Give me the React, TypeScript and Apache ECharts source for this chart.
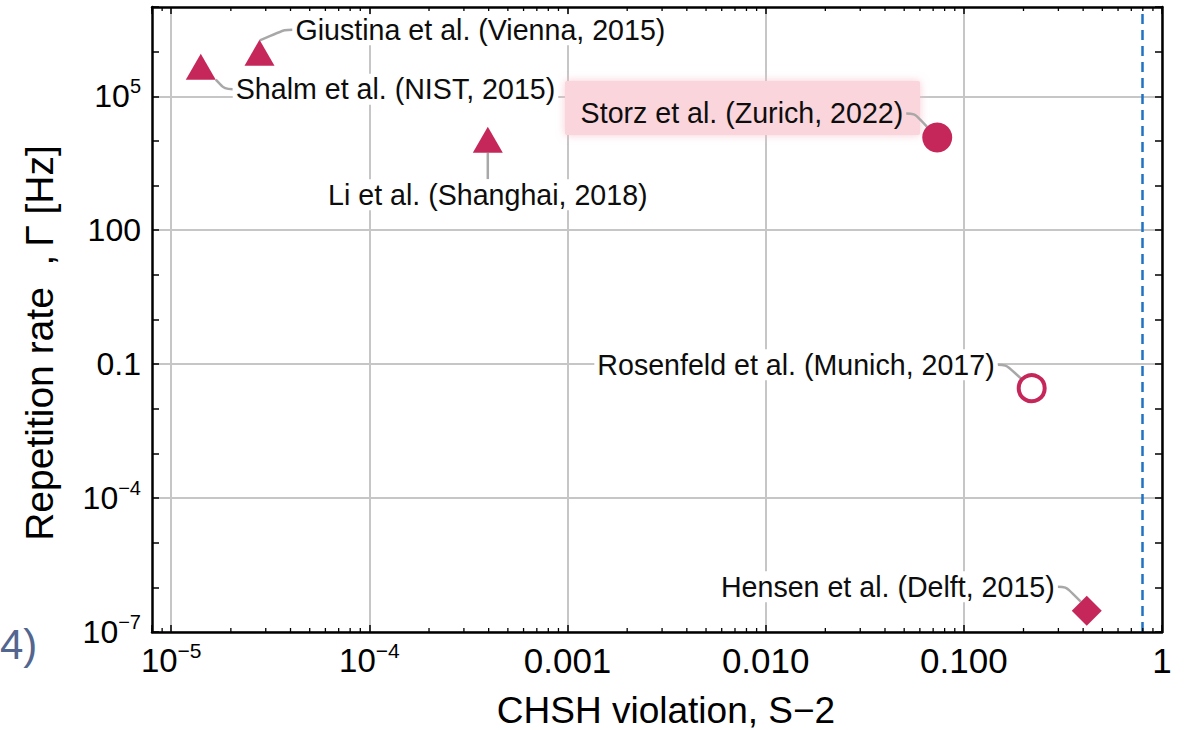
import React, { useEffect, useRef } from 'react';
import * as echarts from 'echarts';

// ---------------- data ----------------
const studies = [
  'Giustina et al. (Vienna, 2015)',
  'Shalm et al. (NIST, 2015)',
  'Li et al. (Shanghai, 2018)',
  'Storz et al. (Zurich, 2022)',
  'Rosenfeld et al. (Munich, 2017)',
  'Hensen et al. (Delft, 2015)',
];
const chshViolation = [2.79e-5, 1.41e-5, 3.96e-4, 0.0734, 0.22, 0.417];
const repetitionRate = [9.5e5, 4.6e5, 1.06e4, 1.2e4, 0.029, 3.0e-7];
const markerKind = ['triangle', 'triangle', 'triangle', 'disc', 'ring', 'diamond'];
const highlightedStudy = 'Storz et al. (Zurich, 2022)';

const xMin = 8e-6;
const xMax = 1;
const yMin = 1e-7;
const yMax = 1e7;
const xTickValues = [1e-5, 1e-4, 1e-3, 1e-2, 1e-1, 1];
const xTickLabels = ['10^−5', '10^−4', '0.001', '0.010', '0.100', '1'];
const yTickValues = [1e-7, 1e-4, 1e-1, 1e2, 1e5];
const yTickLabels = ['10^−7', '10^−4', '0.1', '100', '10^5'];
const xMinorMantissas = [2, 3, 4, 5, 6, 7, 8, 9];
const xMinorDecades = [1e-6, 1e-5, 1e-4, 1e-3, 1e-2, 1e-1];
const tsirelsonBound = 0.8;

const xTitle = 'CHSH violation, S−2';
const yTitle = 'Repetition rate  ,\u2009Γ [Hz]';
const cornerText = '4)';

// ---------------- styles ----------------
const FONT = '"Liberation Sans", Arial, Helvetica, sans-serif';
const CRIMSON = '#C6275B';
const GRID_GRAY = '#c6c6c6';
const PINK = '#fad5dc';

const markerStyles: Record<string, any> = {
  triangle: { symbol: 'triangle', symbolSize: [30, 26], itemStyle: { color: CRIMSON, opacity: 1 } },
  disc: { symbol: 'circle', symbolSize: 30, itemStyle: { color: CRIMSON, opacity: 1 } },
  ring: {
    symbol: 'circle',
    symbolSize: 26,
    itemStyle: { color: '#fff', borderColor: CRIMSON, borderWidth: 4, opacity: 1 },
  },
  diamond: { symbol: 'diamond', symbolSize: [30, 30], itemStyle: { color: CRIMSON, opacity: 1 } },
};

// label anchor offsets relative to marker centre (same order as studies)
const labelOffsets = [
  { dx: 33, dy: -23, align: 'left' },
  { dx: 32, dy: 22.5, align: 'left' },
  { dx: 0, dy: 55, align: 'center' },
  { dx: -31, dy: -24, align: 'right' },
  { dx: -34, dy: -23.5, align: 'right' },
  { dx: -29, dy: -24, align: 'right' },
];

const lg = Math.log10;

function richLabel(text: string) {
  const m = text.match(/^(.*)\^(.*)$/);
  return m ? `{b|${m[1]}}{s|${m[2]}}` : `{n|${text}}`;
}

function tickFormatter(values: number[], labels: string[]) {
  return (v: number) => {
    const i = values.findIndex((t) => Math.abs(lg(t) - v) < 1e-6);
    return i < 0 ? '' : richLabel(labels[i]);
  };
}

function buildOption(): any {
  const axisLine = { show: true, onZero: false, lineStyle: { color: '#000', width: 2.5 } };
  const axisTick = { show: true, inside: true, length: 7, lineStyle: { color: '#000', width: 1.5 } };

  const xRich = {
    b: { fontSize: 33, lineHeight: 40, fontFamily: FONT, color: '#000', verticalAlign: 'middle' },
    s: { fontSize: 21, lineHeight: 22, fontFamily: FONT, color: '#000', verticalAlign: 'top' },
    n: { fontSize: 35, lineHeight: 40, fontFamily: FONT, color: '#000', verticalAlign: 'middle' },
  };
  const yRich = {
    b: { fontSize: 32, lineHeight: 40, fontFamily: FONT, color: '#000', verticalAlign: 'middle' },
    s: { fontSize: 20, lineHeight: 22, fontFamily: FONT, color: '#000', verticalAlign: 'top' },
    n: { fontSize: 32, lineHeight: 40, fontFamily: FONT, color: '#000', verticalAlign: 'middle' },
  };

  const minorTicks: number[][] = [];
  xMinorDecades.forEach((d) =>
    xMinorMantissas.forEach((k) => {
      const v = k * d;
      if (v >= xMin && v <= xMax) minorTicks.push([lg(v), lg(yMin)]);
    })
  );

  const xCommon = {
    type: 'value',
    min: lg(xMin),
    max: lg(xMax),
    minInterval: 1,
    maxInterval: 1,
    z: 10,
    axisLine,
    axisTick,
    splitLine: { show: false },
  };
  const yCommon = {
    type: 'value',
    min: lg(yMin),
    max: lg(yMax),
    interval: 1,
    z: 10,
    axisLine,
    axisTick,
    splitLine: { show: false },
  };

  return {
    animation: false,
    backgroundColor: '#fff',
    textStyle: { fontFamily: FONT },
    grid: { left: 152, right: 29, top: 7, bottom: 98, containLabel: false, outerBoundsMode: 'none' },
    xAxis: [
      {
        ...xCommon,
        position: 'bottom',
        axisLabel: {
          show: true,
          margin: 8,
          formatter: tickFormatter(xTickValues, xTickLabels),
          rich: xRich,
          showMinLabel: true,
          showMaxLabel: true,
        },
      },
      { ...xCommon, position: 'top', axisLabel: { show: false } },
    ],
    yAxis: [
      {
        ...yCommon,
        position: 'left',
        axisLabel: {
          show: true,
          margin: 11,
          formatter: tickFormatter(yTickValues, yTickLabels),
          rich: yRich,
        },
      },
      { ...yCommon, position: 'right', axisLabel: { show: false } },
    ],
    graphic: [
      {
        type: 'rect',
        z: 2,
        silent: true,
        shape: { x: 565, y: 81, width: 355, height: 54, r: 2 },
        style: { fill: PINK, shadowBlur: 8, shadowColor: 'rgba(246,190,202,0.8)' },
      },
      {
        type: 'text',
        z: 10,
        x: 666,
        y: 710,
        style: {
          text: xTitle,
          fontSize: 37,
          fontFamily: FONT,
          fill: '#000',
          align: 'center',
          verticalAlign: 'middle',
          textAlign: 'center',
          textVerticalAlign: 'middle',
        },
      },
      {
        type: 'text',
        z: 10,
        x: 39,
        y: 343,
        rotation: Math.PI / 2,
        style: {
          text: yTitle,
          fontSize: 39,
          fontFamily: FONT,
          fill: '#000',
          align: 'center',
          verticalAlign: 'middle',
          textAlign: 'center',
          textVerticalAlign: 'middle',
        },
      },
      {
        type: 'text',
        z: 10,
        x: 0,
        y: 644,
        style: {
          text: cornerText,
          fontSize: 42,
          fontFamily: FONT,
          fill: '#52668f',
          align: 'left',
          verticalAlign: 'middle',
          textAlign: 'left',
          textVerticalAlign: 'middle',
        },
      },
    ],
    series: [
      {
        name: 'grid',
        type: 'scatter',
        z: 1,
        silent: true,
        data: [],
        markLine: {
          z: 1,
          silent: true,
          symbol: ['none', 'none'],
          label: { show: false },
          emphasis: { disabled: true },
          lineStyle: { color: GRID_GRAY, width: 2, type: 'solid' },
          data: [
            ...xTickValues.map((v) => ({ xAxis: lg(v) })),
            ...yTickValues.map((v) => ({ yAxis: lg(v) })),
            { xAxis: lg(tsirelsonBound), lineStyle: { color: '#1f72c4', width: 2.5, type: [10, 6] } },
          ],
        },
      },
      {
        name: 'minor ticks',
        type: 'custom',
        z: 11,
        silent: true,
        data: minorTicks,
        encode: { x: 0, y: 1 },
        renderItem: (params: any, api: any) => {
          const b = api.coord([api.value(0), lg(yMin)]);
          const t = api.coord([api.value(0), lg(yMax)]);
          const style = { stroke: '#000', lineWidth: 1.3 };
          return {
            type: 'group',
            children: [
              { type: 'line', shape: { x1: b[0], y1: b[1], x2: b[0], y2: b[1] - 4 }, style },
              { type: 'line', shape: { x1: t[0], y1: t[1], x2: t[0], y2: t[1] + 4 }, style },
            ],
          };
        },
      },
      {
        name: 'experiments',
        type: 'scatter',
        z: 3,
        emphasis: { disabled: true },
        itemStyle: { opacity: 1 },
        data: studies.map((name, i) => ({
          name,
          value: [lg(chshViolation[i]), lg(repetitionRate[i])],
          ...markerStyles[markerKind[i]],
          label: name === highlightedStudy ? { backgroundColor: 'transparent' } : undefined,
        })),
        label: {
          show: true,
          formatter: '{b}',
          fontSize: 28.6,
          fontFamily: FONT,
          color: '#0d0d0d',
          backgroundColor: '#fff',
          padding: [1, 3],
        },
        labelLine: {
          show: true,
          length2: 8,
          smooth: 0.35,
          lineStyle: { color: '#a8a8a8', width: 2.5, opacity: 1 },
        },
        labelLayout: (p: any) => {
          const o = labelOffsets[p.dataIndex];
          const cx = p.rect.x + p.rect.width / 2;
          const cy = p.rect.y + p.rect.height / 2;
          return { x: cx + o.dx, y: cy + o.dy, align: o.align, verticalAlign: 'middle' };
        },
      },
    ],
  };
}

export default function App() {
  const ref = useRef<HTMLDivElement>(null);
  useEffect(() => {
    if (!ref.current) return;
    const chart = echarts.init(ref.current, null, { renderer: 'svg' });
    chart.setOption(buildOption());
    return () => chart.dispose();
  }, []);
  return (
    <div
      ref={ref}
      style={{ position: 'fixed', left: 0, top: 0, width: 1191, height: 730, background: '#fff' }}
    />
  );
}
